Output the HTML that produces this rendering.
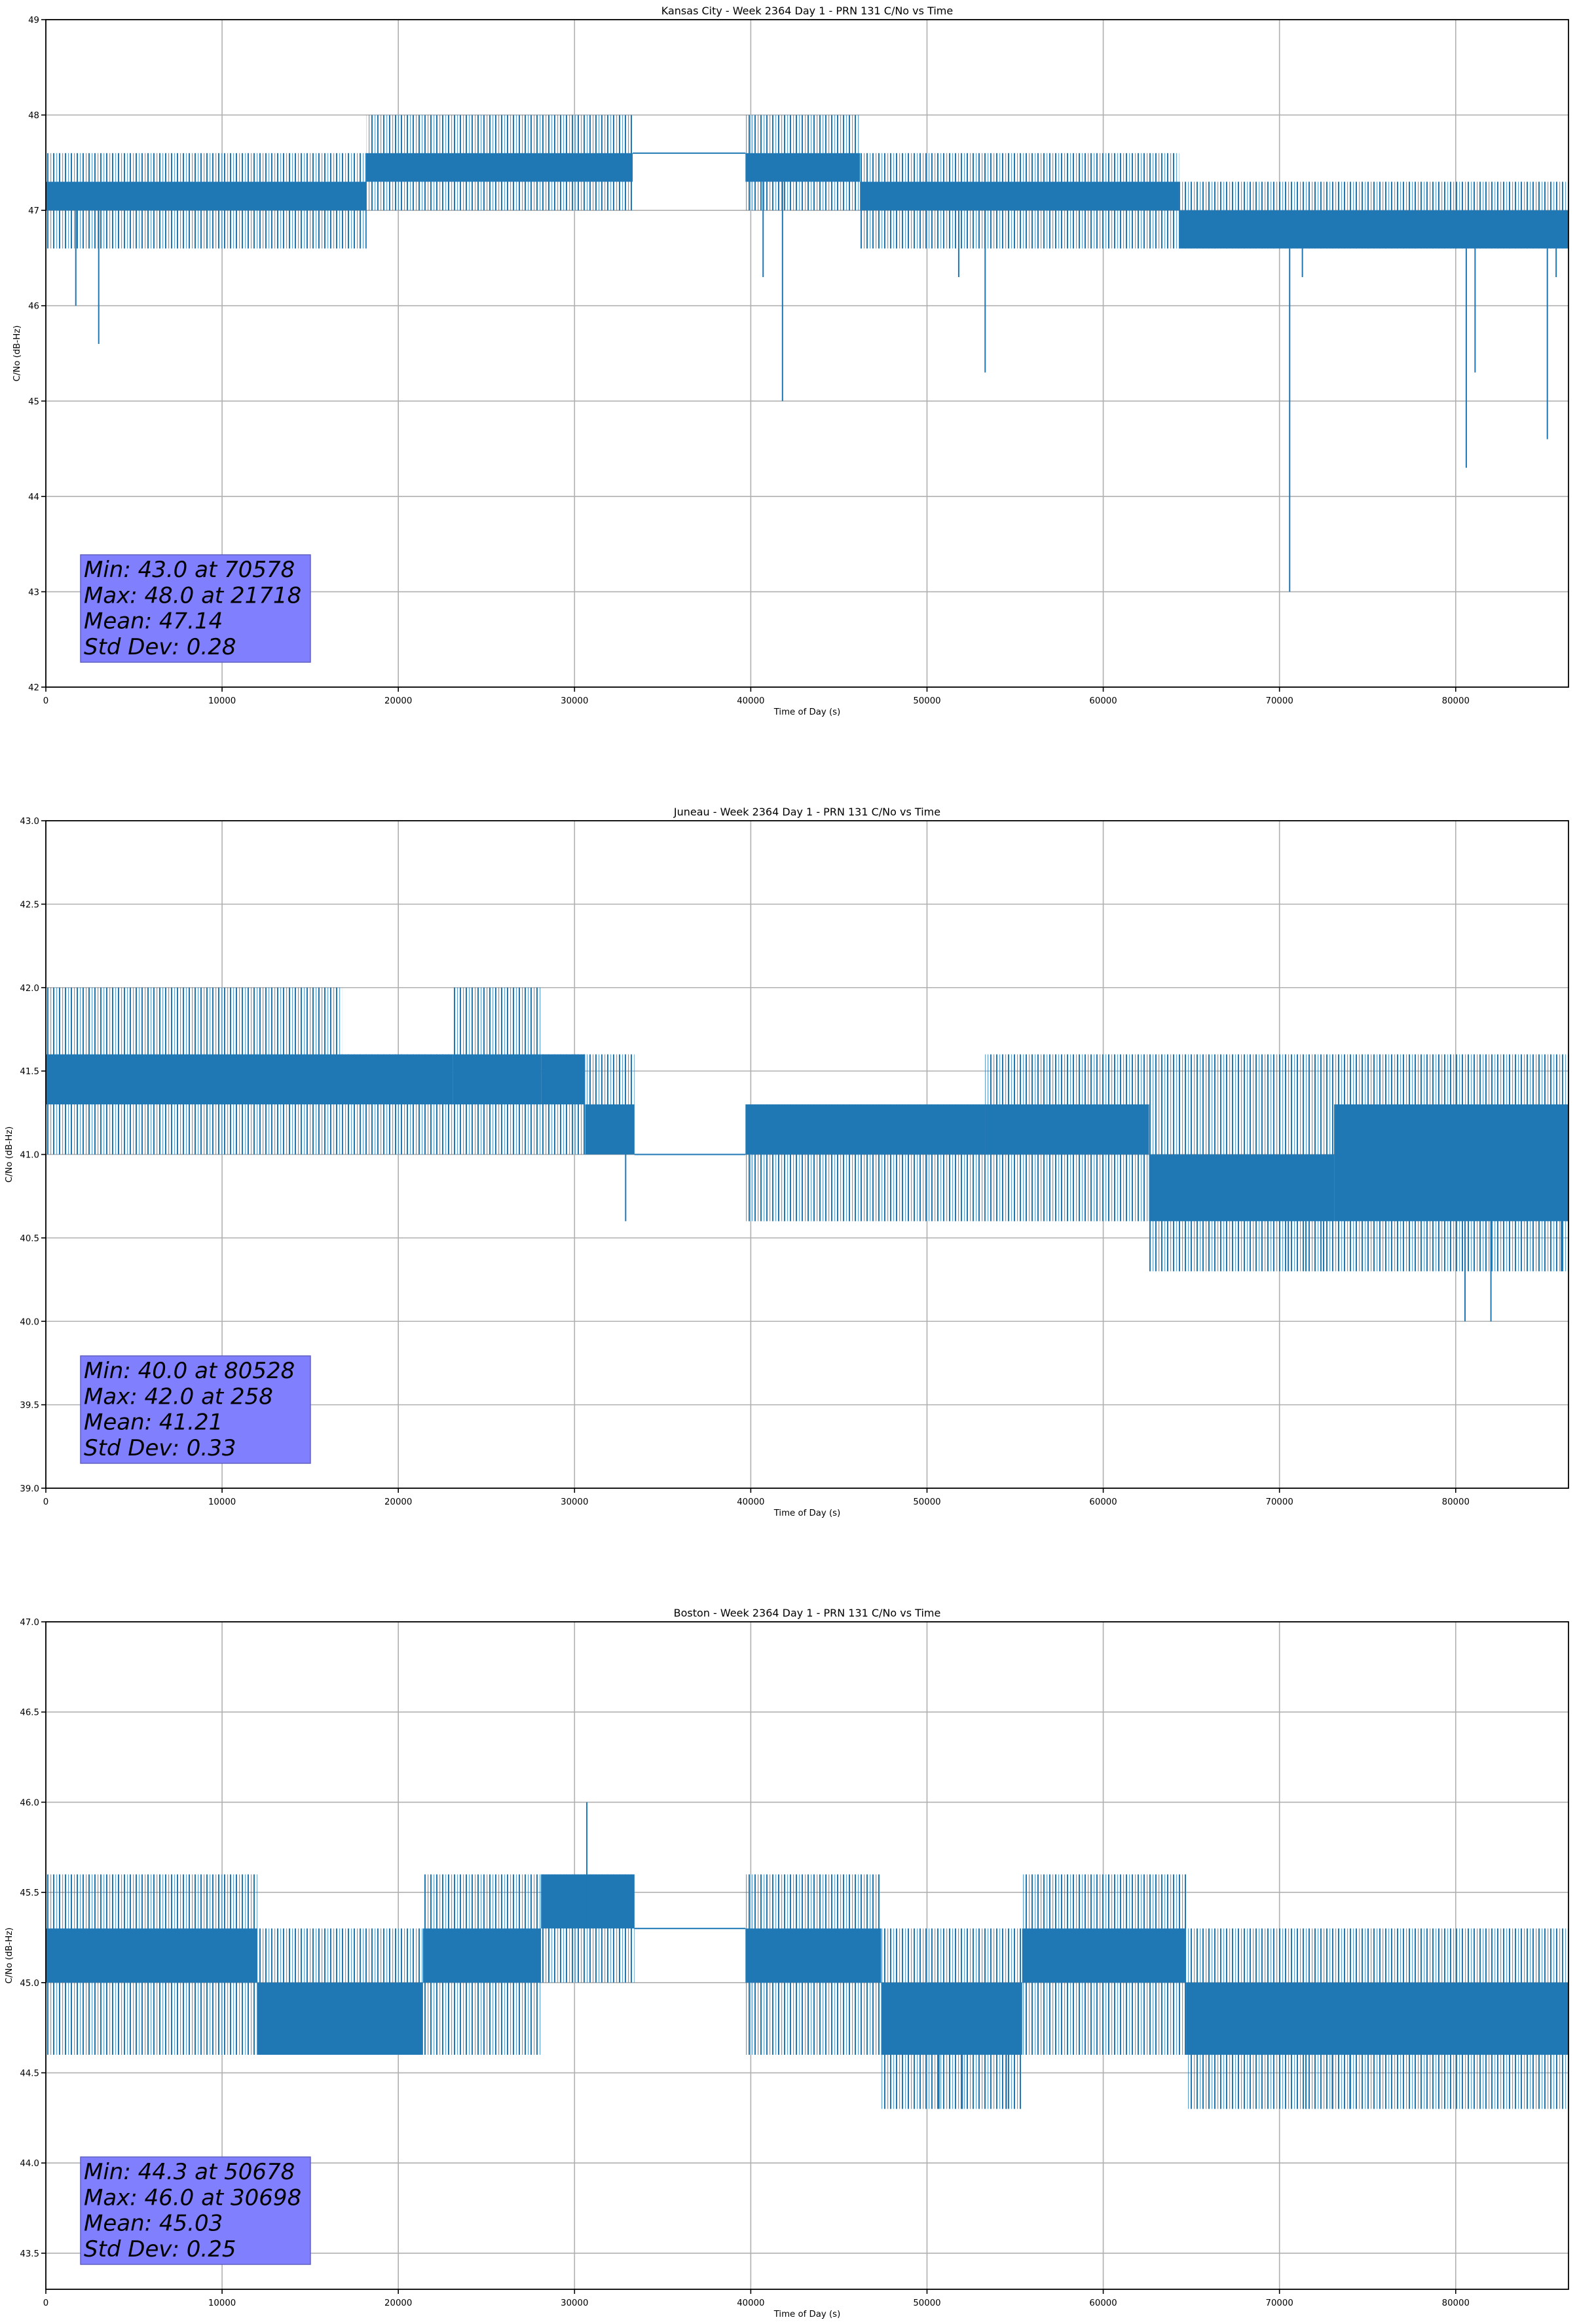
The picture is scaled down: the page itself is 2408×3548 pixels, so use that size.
<!DOCTYPE html>
<html><head><meta charset="utf-8">
<style>
html,body{margin:0;padding:0;background:#fff;}
svg{display:block;font-family:"DejaVu Sans","Liberation Sans",sans-serif;}
</style></head>
<body>
<svg id="fig" width="2408" height="3548" viewBox="0 0 2408 3548" xmlns="http://www.w3.org/2000/svg">
<defs>
<pattern id="noise" patternUnits="userSpaceOnUse" width="9" height="10">
<rect x="0" y="0" width="2" height="10" fill="#1f77b4"/>
<rect x="5" y="0" width="1.2" height="10" fill="#1f77b4" opacity="0.7"/>
</pattern>
</defs>
</svg>
<script>
// ---- Kansas City data ----
const kcSegStart = [0, 18200, 33300, 39700, 46200, 64300];
const kcSegEnd   = [18200, 33300, 39700, 46200, 64300, 86400];
const kcBandLo   = [47.0, 47.3, 47.6, 47.3, 47.0, 46.6];
const kcBandHi   = [47.3, 47.6, 47.6, 47.6, 47.3, 47.0];
const kcNoiseLo  = [46.6, 47.0, 47.6, 47.0, 46.6, 46.6];
const kcNoiseHi  = [47.6, 48.0, 47.6, 48.0, 47.6, 47.3];
const kcSpikeT   = [1700, 3000, 40700, 41800, 51800, 53300, 70578, 71300, 80600, 81100, 85200, 85700];
const kcSpikeV   = [46.0, 45.6, 46.3, 45.0, 46.3, 45.3, 43.0, 46.3, 44.3, 45.3, 44.6, 46.3];
// ---- Juneau data ----
const jnSegStart = [0, 16800, 23100, 28100, 30600, 33400, 39700, 53300, 62600, 73100];
const jnSegEnd   = [16800, 23100, 28100, 30600, 33400, 39700, 53300, 62600, 73100, 86400];
const jnBandLo   = [41.3, 41.3, 41.3, 41.3, 41.0, 41.0, 41.0, 41.0, 40.6, 40.6];
const jnBandHi   = [41.6, 41.6, 41.6, 41.6, 41.3, 41.0, 41.3, 41.3, 41.0, 41.3];
const jnNoiseLo  = [41.0, 41.0, 41.0, 41.0, 41.0, 41.0, 40.6, 40.6, 40.3, 40.3];
const jnNoiseHi  = [42.0, 41.6, 42.0, 41.6, 41.6, 41.0, 41.3, 41.6, 41.6, 41.6];
const jnSpikeT   = [32900, 70500, 71500, 72500, 80528, 82000, 86000];
const jnSpikeV   = [40.6, 40.3, 40.3, 40.3, 40.0, 40.0, 40.3];
// ---- Boston data ----
const bsSegStart = [0, 12000, 21400, 28100, 33400, 39700, 47400, 55400, 64700];
const bsSegEnd   = [12000, 21400, 28100, 33400, 39700, 47400, 55400, 64700, 86400];
const bsBandLo   = [45.0, 44.6, 45.0, 45.3, 45.3, 45.0, 44.6, 45.0, 44.6];
const bsBandHi   = [45.3, 45.0, 45.3, 45.6, 45.3, 45.3, 45.0, 45.3, 45.0];
const bsNoiseLo  = [44.6, 44.6, 44.6, 45.0, 45.3, 44.6, 44.3, 44.6, 44.3];
const bsNoiseHi  = [45.6, 45.3, 45.6, 45.6, 45.3, 45.6, 45.3, 45.6, 45.3];
const bsSpikeT   = [30698, 50678, 52000, 54500, 71500, 73000, 74000];
const bsSpikeV   = [46.0, 44.3, 44.3, 44.3, 44.3, 44.3, 44.3];
// ---- tick labels ----
const xTicks = [0, 10000, 20000, 30000, 40000, 50000, 60000, 70000, 80000];
const kcYTicks = [42, 43, 44, 45, 46, 47, 48, 49];
const jnYTicks = [39.0, 39.5, 40.0, 40.5, 41.0, 41.5, 42.0, 42.5, 43.0];
const bsYTicks = [43.5, 44.0, 44.5, 45.0, 45.5, 46.0, 46.5, 47.0];

const panels = [
 {key:'kansas-city', title:'Kansas City - Week 2364 Day 1 - PRN 131 C/No vs Time', top:30, ymin:42, ymax:49, yt:kcYTicks, dec:0, ylx:30,
  s:kcSegStart,e:kcSegEnd,bl:kcBandLo,bh:kcBandHi,nl:kcNoiseLo,nh:kcNoiseHi,st:kcSpikeT,sv:kcSpikeV,
  stats:['Min: 43.0 at 70578','Max: 48.0 at 21718','Mean: 47.14','Std Dev: 0.28']},
 {key:'juneau', title:'Juneau - Week 2364 Day 1 - PRN 131 C/No vs Time', top:1253, ymin:39, ymax:43, yt:jnYTicks, dec:1, ylx:18,
  s:jnSegStart,e:jnSegEnd,bl:jnBandLo,bh:jnBandHi,nl:jnNoiseLo,nh:jnNoiseHi,st:jnSpikeT,sv:jnSpikeV,
  stats:['Min: 40.0 at 80528','Max: 42.0 at 258','Mean: 41.21','Std Dev: 0.33']},
 {key:'boston', title:'Boston - Week 2364 Day 1 - PRN 131 C/No vs Time', top:2476, ymin:43.3, ymax:47, yt:bsYTicks, dec:1, ylx:18,
  s:bsSegStart,e:bsSegEnd,bl:bsBandLo,bh:bsBandHi,nl:bsNoiseLo,nh:bsNoiseHi,st:bsSpikeT,sv:bsSpikeV,
  stats:['Min: 44.3 at 50678','Max: 46.0 at 30698','Mean: 45.03','Std Dev: 0.25']}
];

const NS='http://www.w3.org/2000/svg';
const fig=document.getElementById('fig');
function mk(tag,attrs,parent,text){const el=document.createElementNS(NS,tag);for(const k in attrs)el.setAttribute(k,attrs[k]);if(text!==undefined)el.textContent=text;(parent||fig).appendChild(el);return el;}

const L=70,R=2395,H=1019,XMAX=86400;
panels.forEach(p=>{
  const T=p.top,B=T+H;
  const xs=v=>L+(v/XMAX)*(R-L);
  const ys=v=>B-(v-p.ymin)/(p.ymax-p.ymin)*H;
  const g=mk('g',{});
  
  
  xTicks.forEach(t=>{const l=mk('line',{x1:xs(t),x2:xs(t),y1:T,y2:B,stroke:'#b0b0b0','stroke-width':1.6},g);
    });
  p.yt.forEach(t=>{const l=mk('line',{x1:L,x2:R,y1:ys(t),y2:ys(t),stroke:'#b0b0b0','stroke-width':1.6},g);
    });
  const sg=mk('g',{},g);
  
  
  p.s.forEach((s,i)=>{
    const x1=xs(s),x2=xs(p.e[i]);
    if(p.nh[i]>p.nl[i]){const n=mk('rect',{x:x1,y:ys(p.nh[i]),width:x2-x1,height:ys(p.nl[i])-ys(p.nh[i]),fill:'url(#noise)'},sg);
      }
    const bh=Math.max(2,ys(p.bl[i])-ys(p.bh[i]));
    const r=mk('rect',{x:x1,y:ys(p.bh[i])-(p.bh[i]==p.bl[i]?1:0),width:x2-x1,height:bh,fill:'#1f77b4'},sg);
    
  });
  p.st.forEach((t,i)=>{
    const si=p.s.findIndex((s,j)=>t>=s&&t<p.e[j]);
    const sp=mk('line',{x1:xs(t),x2:xs(t),y1:ys(p.sv[i]),y2:ys(si>=0?p.bl[si]:p.sv[i]),stroke:'#1f77b4','stroke-width':2},sg);
    
  });
  const fr=mk('rect',{x:L,y:T,width:R-L,height:H,fill:'none',stroke:'#000','stroke-width':1.8},g);
  
  xTicks.forEach(t=>{mk('line',{x1:xs(t),x2:xs(t),y1:B,y2:B+7,stroke:'#000','stroke-width':1.6},g);
    const tl=mk('text',{x:xs(t),y:B+25,'font-size':13.3,'text-anchor':'middle',fill:'#000'},g,String(t));
    });
  p.yt.forEach(t=>{mk('line',{x1:L-7,x2:L,y1:ys(t),y2:ys(t),stroke:'#000','stroke-width':1.6},g);
    const tl=mk('text',{x:L-10,y:ys(t)+5,'font-size':13.3,'text-anchor':'end',fill:'#000'},g,t.toFixed(p.dec));
    });
  const ti=mk('text',{x:(L+R)/2,y:T-8,'font-size':16,'text-anchor':'middle',fill:'#000'},g,p.title);
  
  const xl=mk('text',{x:(L+R)/2,y:B+42,'font-size':13.3,'text-anchor':'middle',fill:'#000'},g,'Time of Day (s)');
  
  const yl=mk('text',{x:0,y:0,'font-size':13.3,'text-anchor':'middle',fill:'#000',transform:`translate(${p.ylx},${(T+B)/2}) rotate(-90)`},g,'C/No (dB-Hz)');
  
  const bx=mk('rect',{x:123,y:T+817,width:351,height:164,fill:'#8080ff',stroke:'#6060c0','stroke-width':1.5},g);
  
  p.stats.forEach((s,i)=>{const st=mk('text',{x:128,y:T+851+i*39.3,'font-size':34,'font-style':'italic',fill:'#000'},g,s);
    });
});
</script>
</body></html>
